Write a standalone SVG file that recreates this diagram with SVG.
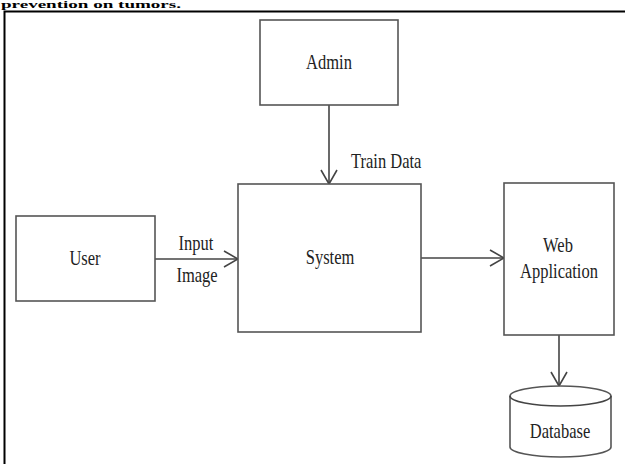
<svg xmlns="http://www.w3.org/2000/svg" width="625" height="464" viewBox="0 0 625 464">
<defs>
<style>
.box{fill:#fff;stroke:#555;stroke-width:1.6}
.t{font-family:"Liberation Serif","Times New Roman",serif;font-size:16.5px;fill:#222;text-anchor:middle}
.tl{font-family:"Liberation Serif","Times New Roman",serif;font-size:16.5px;fill:#222}
.ln{fill:none;stroke:#444;stroke-width:1.6}
</style>
<marker id="ah" viewBox="0 0 16 18" refX="15" refY="9" markerWidth="16" markerHeight="18" markerUnits="userSpaceOnUse" orient="auto">
<path d="M1,1 L15,9 L1,17" fill="none" stroke="#444" stroke-width="1.6"/>
</marker>
</defs>
<rect width="625" height="464" fill="#fff"/>
<text x="1" y="8" font-family="Liberation Serif,serif" font-size="10" font-weight="bold" fill="#000" textLength="180" lengthAdjust="spacingAndGlyphs">prevention on tumors.</text>
<path d="M4.5,470 V11.5 H630" fill="none" stroke="#000" stroke-width="2"/>
<g id="connectors">
<line class="ln" x1="329" y1="105" x2="329" y2="184" marker-end="url(#ah)"/>
<line class="ln" x1="155" y1="259" x2="238" y2="259" marker-end="url(#ah)"/>
<line class="ln" x1="421" y1="258" x2="504" y2="258" marker-end="url(#ah)"/>
<line class="ln" x1="559" y1="335" x2="559" y2="386" marker-end="url(#ah)"/>
<text class="tl" transform="translate(351,168) scale(1,1.3)">Train Data</text>
<text class="t" transform="translate(196,250) scale(1,1.3)">Input</text>
<text class="t" transform="translate(197,282) scale(1,1.3)">Image</text>
</g>
<g id="admin">
<rect class="box" x="260" y="20" width="138" height="85"/>
<text class="t" transform="translate(329,69) scale(1,1.3)">Admin</text>
</g>
<g id="user">
<rect class="box" x="16" y="216" width="139" height="85"/>
<text class="t" transform="translate(85,265) scale(1,1.3)">User</text>
</g>
<g id="system">
<rect class="box" x="238" y="184" width="183" height="148"/>
<text class="t" transform="translate(330,264) scale(1,1.3)">System</text>
</g>
<g id="webapp">
<rect class="box" x="504" y="183" width="110" height="152"/>
<text class="t" transform="translate(558,252) scale(1,1.3)">Web</text>
<text class="t" transform="translate(559,278) scale(1,1.3)">Application</text>
</g>
<g id="database">
<path class="box" d="M510,396 A50.5,10 0 0 1 611,396 V447 A50.5,10 0 0 1 510,447 Z"/>
<path class="ln" d="M510,396 A50.5,10 0 0 0 611,396" stroke="#555"/>
<text class="t" transform="translate(560,438) scale(1,1.3)">Database</text>
</g>
</svg>
